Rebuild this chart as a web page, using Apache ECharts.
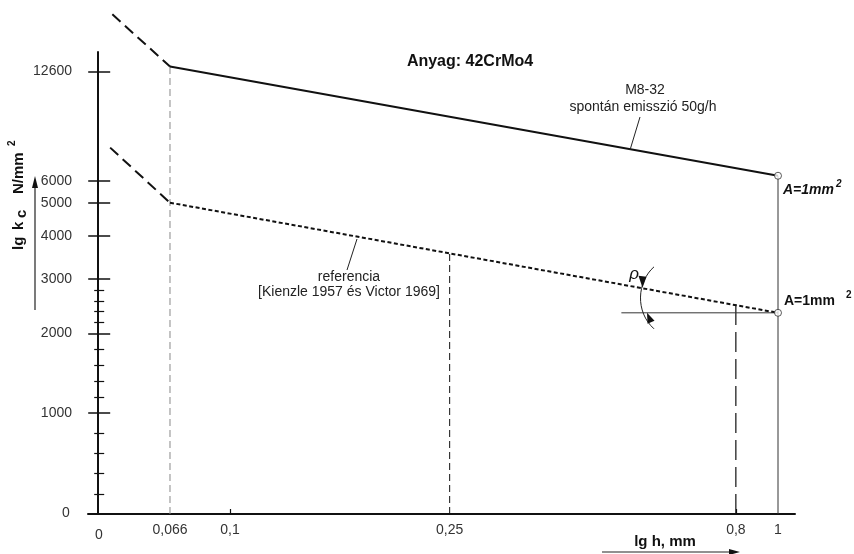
<!DOCTYPE html>
<html>
<head>
<meta charset="utf-8">
<title>Anyag: 42CrMo4</title>
<script src="https://cdn.jsdelivr.net/npm/echarts@6.0.0/dist/echarts.min.js"></script>
<style>
  html, body { margin: 0; padding: 0; background: #fff; }
  #chart { width: 854px; height: 554px; }
</style>
</head>
<body>
<div id="chart"></div>
<script>
// lg h, mm -- the drawing is schematic, ticks sit where the original puts them
const xTickLabels = ['0', '0,066', '0,1', '0,25', '0,8', '1'];
const xTickValues = [0, 0.066, 0.1, 0.25, 0.8, 1];
const xTickPos = [0, 10.56, 19.39, 51.7, 93.8, 100];

// lg kc, N/mm2
const yTickLabels = ['0', '1000', '2000', '3000', '4000', '5000', '6000', '12600'];
const yTickValues = [0, 1000, 2000, 3000, 4000, 5000, 6000, 12600];
const yTickPos = [0, 22.82, 40.81, 53.05, 62.88, 70.34, 75.31, 100];
const yMinorValues = [200, 400, 600, 800, 1200, 1400, 1600, 1800, 2200, 2400, 2600, 2800];

// M8-32, spontán emisszió 50g/h
const m832H = [0.066, 1];
const m832Kc = [12900, 6300];
const m832ExtH = [0.013, 0.066];
const m832ExtKc = [16050, 12900];

// referencia [Kienzle 1957 és Victor 1969]
const refH = [0.066, 1];
const refKc = [5000, 2380];
const refExtH = [0.011, 0.066];
const refExtKc = [8000, 5000];

// vertical guide lines
const dropH = [0.066, 0.25, 0.8, 1];
const dropKc = [12900, 3600, 2520, 6300];
// horizontal through the reference end point
const baseH = [0.58, 1];
const baseKc = [2380, 2380];

function toPos(v, vals, pos) {
  let i = 1;
  while (i < vals.length - 1 && v > vals[i]) i++;
  const t = (v - vals[i - 1]) / (vals[i] - vals[i - 1]);
  return pos[i - 1] + t * (pos[i] - pos[i - 1]);
}
const X = (h) => toPos(h, xTickValues, xTickPos);
const Y = (kc) => toPos(kc, yTickValues, yTickPos);
const pts = (hs, kcs) => hs.map((h, i) => [X(h), Y(kcs[i])]);

function labelAt(v, pos, labels) {
  let best = 0;
  pos.forEach((p, i) => {
    if (Math.abs(p - v) < Math.abs(pos[best] - v)) best = i;
  });
  return labels[best];
}

const font = "'Liberation Sans', Arial, sans-serif";
const ink = '#111';

const majorPos = yTickPos.slice(1);
const minorPos = yMinorValues.map(Y);

function yAxisOf(extra) {
  return Object.assign({
    type: 'value',
    min: 0,
    max: 104.4,
    position: 'left',
    splitLine: { show: false },
    axisLine: { show: false, onZero: true, onZeroAxisIndex: 0 },
    axisLabel: { show: false },
    axisTick: { show: false },
  }, extra);
}

function lineSeries(data, style) {
  return {
    type: 'line',
    data: data,
    symbol: 'none',
    silent: true,
    clip: false,
    z: style.z || 2,
    lineStyle: {
      color: style.color || ink,
      width: style.width,
      type: style.type || 'solid',
    },
  };
}

const series = [
  lineSeries(pts(m832H, m832Kc), { width: 2 }),
  lineSeries(pts(m832ExtH, m832ExtKc), { width: 2, type: [11, 6] }),
  lineSeries(pts(refH, refKc), { width: 2, type: [4, 2.5] }),
  lineSeries(pts(refExtH, refExtKc), { width: 2, type: [11, 6] }),
  lineSeries(pts([dropH[0], dropH[0]], [0, dropKc[0]]), { width: 1, color: '#888', type: [7, 4], z: 1 }),
  lineSeries(pts([dropH[1], dropH[1]], [0, dropKc[1]]), { width: 1, type: [7, 4], z: 1 }),
  lineSeries(pts([dropH[2], dropH[2]], [0, dropKc[2]]), { width: 1.2, type: [20, 7], z: 1 }),
  lineSeries(pts([dropH[3], dropH[3]], [0, dropKc[3]]), { width: 1, color: '#333', z: 1 }),
  lineSeries(pts(baseH, baseKc), { width: 1, color: '#333', z: 1 }),
  {
    type: 'scatter',
    data: pts([m832H[1], refH[1]], [m832Kc[1], refKc[1]]),
    symbol: 'circle',
    symbolSize: 7,
    silent: true,
    z: 5,
    itemStyle: { color: '#fff', borderColor: '#333', borderWidth: 1 },
  },
];

const chart = echarts.init(document.getElementById('chart'));

chart.setOption({
  animation: false,
  backgroundColor: '#fff',
  grid: { left: 88, right: 59, top: 52, bottom: 40, containLabel: false, outerBoundsMode: 'none' },
  xAxis: {
    type: 'value',
    min: -1.5,
    max: 102.5,
    splitLine: { show: false },
    axisLine: { onZero: false, lineStyle: { color: ink, width: 2 } },
    axisTick: {
      show: true, inside: true, length: 5,
      customValues: [X(0.1), X(0.8)],
      lineStyle: { color: ink, width: 1.2 },
    },
    axisLabel: {
      customValues: xTickPos.slice(1),
      margin: 9,
      fontFamily: font, fontSize: 14, color: '#333',
      formatter: (v) => labelAt(v, xTickPos, xTickLabels),
    },
  },
  yAxis: [
    yAxisOf({
      axisLine: { show: true, onZero: true, onZeroAxisIndex: 0, lineStyle: { color: ink, width: 2 } },
      axisTick: { show: true, length: 10, customValues: majorPos, lineStyle: { color: ink, width: 1.5 } },
      axisLabel: {
        show: true,
        customValues: majorPos,
        margin: 16,
        fontFamily: font, fontSize: 14, color: '#333',
        formatter: (v) => labelAt(v, yTickPos, yTickLabels),
      },
    }),
    yAxisOf({ axisTick: { show: true, inside: true, length: 12, customValues: majorPos, lineStyle: { color: ink, width: 1.5 } } }),
    yAxisOf({ axisTick: { show: true, length: 4, customValues: minorPos, lineStyle: { color: ink, width: 1.2 } } }),
    yAxisOf({ axisTick: { show: true, inside: true, length: 6, customValues: minorPos, lineStyle: { color: ink, width: 1.2 } } }),
  ],
  series: series,
});

function txt(text, x, y, size, opts) {
  opts = opts || {};
  return {
    type: 'text',
    silent: true,
    z: 10,
    style: {
      text: text, x: x, y: y,
      fontFamily: font,
      fontSize: size,
      fontWeight: opts.weight || 'normal',
      fontStyle: opts.style || 'normal',
      fill: opts.color || '#222',
      align: opts.align || 'center',
      textAlign: opts.align || 'center',
      verticalAlign: opts.valign || 'middle',
      textVerticalAlign: opts.valign || 'middle',
    },
  };
}
function seg(x1, y1, x2, y2, w) {
  return { type: 'line', silent: true, z: 10, shape: { x1, y1, x2, y2 }, style: { stroke: '#222', lineWidth: w || 1 } };
}
function tri(points) {
  return { type: 'polygon', silent: true, z: 10, shape: { points }, style: { fill: '#111' } };
}

// angle mark at the reference end point
const P = chart.convertToPixel({ gridIndex: 0 }, [X(refH[1]), Y(refKc[1])]);
const at = (dx, dy) => [P[0] + dx, P[1] + dy];

chart.setOption({
  graphic: [
    txt('Anyag: 42CrMo4', 470, 62, 16, { weight: 'bold', color: '#111' }),
    txt('M8-32', 645, 90, 14),
    txt('spontán emisszió 50g/h', 643, 107, 14),
    seg(640, 117, 630, 150),
    txt('referencia', 349, 277, 14),
    txt('[Kienzle 1957 és Victor 1969]', 349, 292, 14),
    seg(357, 239, 347, 270),

    txt('A=1mm', 783, 190, 14, { weight: 'bold', style: 'italic', align: 'left', color: '#111' }),
    txt('2', 836, 184, 10, { weight: 'bold', style: 'italic', align: 'left', color: '#111' }),
    txt('A=1mm', 784, 301, 14, { weight: 'bold', align: 'left', color: '#111' }),
    txt('2', 846, 295, 10, { weight: 'bold', align: 'left', color: '#111' }),

    txt('0', 66, 513, 14, { color: '#333' }),
    txt('0', 99, 535, 14, { color: '#333' }),

    // x axis name with arrow
    txt('lg h, mm', 665, 542, 15, { weight: 'bold', color: '#111' }),
    seg(602, 552, 732, 552, 1.2),
    tri([[740, 552], [729, 549], [729, 555]]),

    // y axis name with arrow
    {
      type: 'group',
      x: 26, y: 250,
      rotation: Math.PI / 2,
      children: [
        txt('lg', 0, 0, 15, { weight: 'bold', align: 'left', valign: 'bottom', color: '#111' }),
        txt('k', 20, 0, 15, { weight: 'bold', align: 'left', valign: 'bottom', color: '#111' }),
        txt('c', 32, 3, 15, { weight: 'bold', align: 'left', valign: 'bottom', color: '#111' }),
        txt('N/mm', 56, 0, 15, { weight: 'bold', align: 'left', valign: 'bottom', color: '#111' }),
        txt('2', 104, -9, 10, { weight: 'bold', align: 'left', valign: 'bottom', color: '#111' }),
      ],
    },
    seg(35, 310, 35, 185, 1.2),
    tri([[35, 176], [32, 188], [38, 188]]),

    // rho angle mark
    {
      type: 'bezierCurve', silent: true, z: 10,
      shape: {
        x1: at(-124, -46)[0], y1: at(-124, -46)[1],
        cpx1: at(-141, -31)[0], cpy1: at(-141, -31)[1],
        cpx2: at(-143, -1)[0], cpy2: at(-143, -1)[1],
        x2: at(-124, 16)[0], y2: at(-124, 16)[1],
      },
      style: { stroke: '#222', lineWidth: 1, fill: null },
    },
    tri([at(-139.5, -37), at(-131.5, -36), at(-135.5, -25)]),
    tri([at(-131, 0), at(-130.5, 11), at(-123.5, 8)]),
    txt('ρ', P[0] - 144, P[1] - 39, 17, { style: 'italic', color: '#111' }),
  ],
});
</script>
</body>
</html>
